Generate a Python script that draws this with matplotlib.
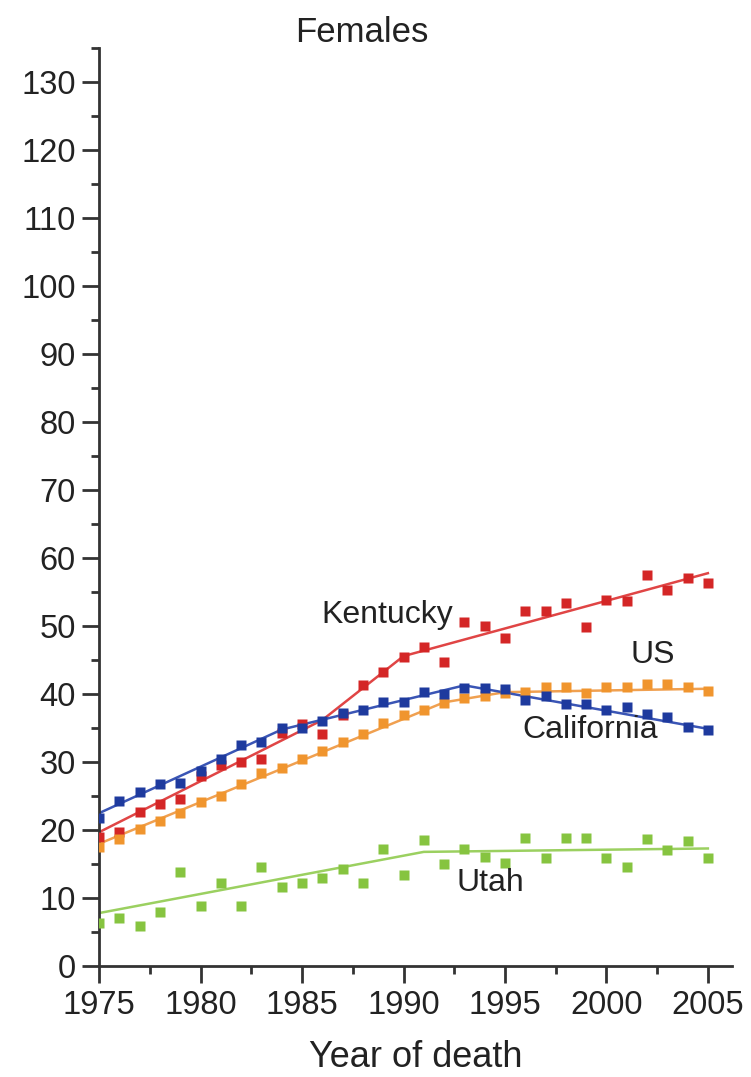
import matplotlib
matplotlib.use("Agg")
import matplotlib.pyplot as plt
from matplotlib.ticker import MultipleLocator

plt.rcParams['font.family'] = ['Liberation Sans', 'DejaVu Sans']

years = list(range(1975, 2006))

kentucky = [19.0, 19.7, 22.6, 23.8, 24.6, 27.9, 29.6, 30.0, 30.4, 34.3, 35.6,
            34.2, 36.9, 41.3, 43.2, 45.4, 46.9, 44.7, 50.6, 50.1, 48.2,
            52.2, 52.2, 53.4, 49.9, 53.8, 53.7, 57.6, 55.4, 57.1, 56.3]
california = [21.8, 24.3, 25.6, 26.8, 26.9, 28.7, 30.5, 32.5, 32.9, 35.0, 35.0,
              36.0, 37.2, 37.6, 38.8, 38.8, 40.3, 40.1, 40.9, 40.9, 40.8,
              39.2, 39.8, 38.5, 38.5, 37.6, 38.1, 37.1, 36.6, 35.2, 34.7]
us = [17.5, 18.7, 20.1, 21.3, 22.5, 24.1, 25.0, 26.8, 28.4, 29.2, 30.4,
      31.7, 33.0, 34.1, 35.7, 36.9, 37.6, 38.7, 39.4, 39.7, 40.2,
      40.3, 41.0, 41.0, 40.2, 41.0, 41.0, 41.5, 41.5, 41.0, 40.5]
utah = [6.3, 7.1, 5.9, 7.9, 13.8, 8.8, 12.2, 8.8, 14.6, 11.6, 12.2,
        13.0, 14.3, 12.2, 17.2, 13.4, 18.5, 15.0, 17.2, 16.0, 15.1,
        18.8, 15.9, 18.8, 18.8, 15.9, 14.6, 18.7, 17.1, 18.4, 15.9]

# joinpoint fitted trends
ky_fit_x, ky_fit_y = [1975, 1986, 1990, 2005], [19.7, 36.2, 45.6, 57.8]
ca_fit_x, ca_fit_y = [1975, 1984, 1993, 2005], [22.5, 34.8, 41.3, 34.9]
us_fit_x, us_fit_y = [1975, 1983, 1992, 1995, 2005], [18.0, 27.8, 38.8, 40.3, 40.8]
ut_fit_x, ut_fit_y = [1975, 1991, 2005], [7.8, 16.8, 17.3]

series = [
    ("Kentucky", kentucky, ky_fit_x, ky_fit_y, "#d42626", "#e04545", (1989.2, 51.6)),
    ("US", us, us_fit_x, us_fit_y, "#f0952e", "#f0a050", (2002.3, 45.7)),
    ("California", california, ca_fit_x, ca_fit_y, "#1e3a9e", "#3a55b5", (1999.2, 34.7)),
    ("Utah", utah, ut_fit_x, ut_fit_y, "#86c440", "#9bd060", (1994.3, 12.2)),
]

fig = plt.figure(figsize=(7.51, 10.77), dpi=100)
ax = fig.add_axes([0.132, 0.103, 0.843, 0.852])

for name, vals, fx, fy, mc, lc, pos in series:
    ax.plot(fx, fy, color=lc, lw=1.8, zorder=2)
    ax.plot(years, vals, 's', color=mc, ms=6.5, mec='none', zorder=3)
    ax.text(pos[0], pos[1], name, fontsize=23, color='#222222',
            ha='center', va='center', zorder=4)

ax.set_xlim(1975, 2006.2)
ax.set_ylim(0, 135)
ax.xaxis.set_major_locator(MultipleLocator(5))
ax.xaxis.set_minor_locator(MultipleLocator(2.5))
ax.yaxis.set_major_locator(MultipleLocator(10))
ax.yaxis.set_minor_locator(MultipleLocator(5))

for s in ['top', 'right']:
    ax.spines[s].set_visible(False)
for s in ['left', 'bottom']:
    ax.spines[s].set_linewidth(2)
    ax.spines[s].set_color('#333333')

ax.tick_params(which='major', length=12, width=2, labelsize=23.5, colors='#333333',
               labelcolor='#222222', pad=5)
ax.tick_params(which='minor', length=6, width=2, colors='#333333')

ax.set_xlabel("Year of death", fontsize=26, color='#222222', labelpad=14)
fig.text(362 / 751, 1 - 33 / 1077, "Females", fontsize=25, color='#222222',
         ha='center', va='center')

fig.savefig("out.png", dpi=100)
